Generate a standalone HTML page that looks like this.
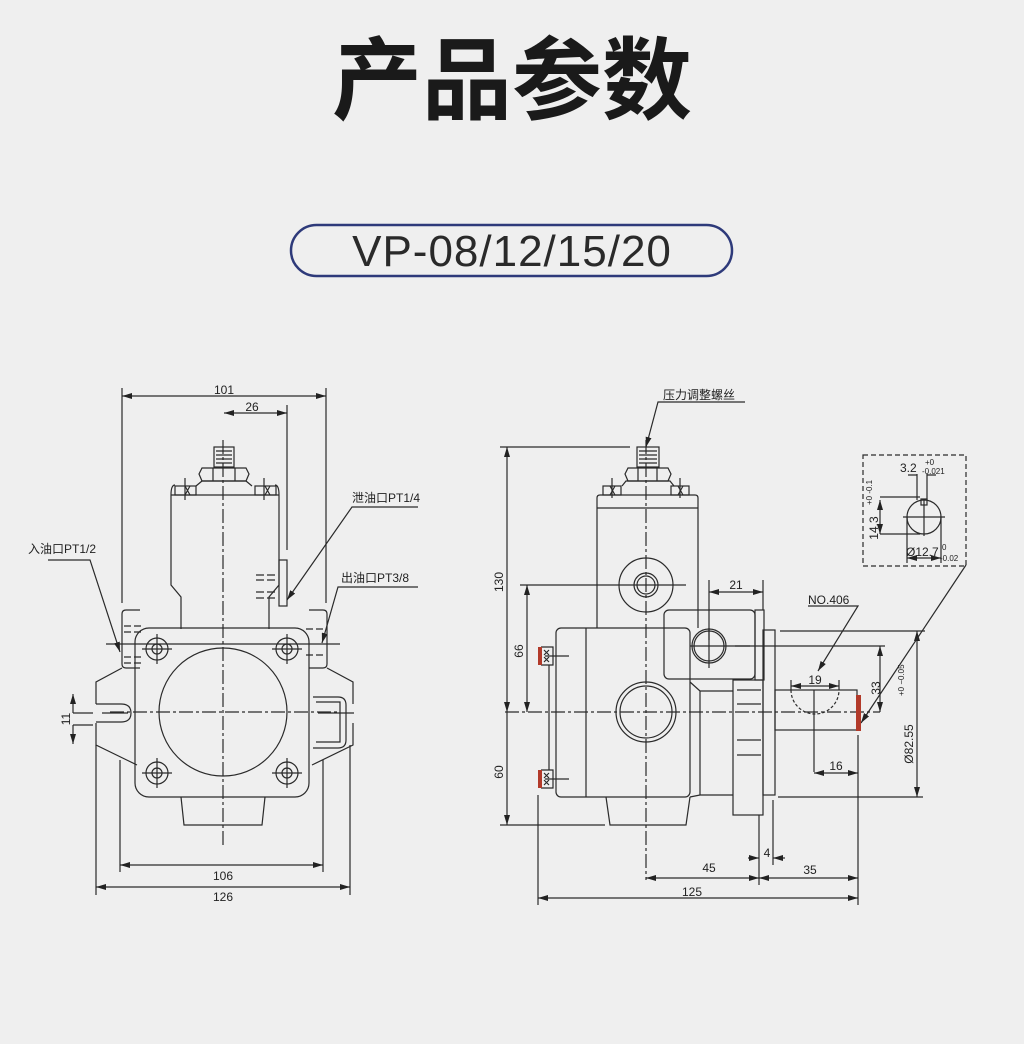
<!DOCTYPE html>
<html><head><meta charset="utf-8"><style>
html,body{margin:0;padding:0;background:#efefef;}
svg{display:block}
</style></head><body>
<svg width="1024" height="1044" viewBox="0 0 1024 1044" xmlns="http://www.w3.org/2000/svg" font-family="Liberation Sans, Noto Sans CJK SC, sans-serif">
<defs>
<marker id="a" viewBox="0 0 10 6" refX="10" refY="3" markerWidth="10" markerHeight="6" orient="auto-start-reverse" markerUnits="userSpaceOnUse"><path d="M0,0L10,3L0,6z" fill="#222"/></marker>
</defs>
<rect width="1024" height="1044" fill="#efefef"/>
<text x="512" y="112" text-anchor="middle" font-size="90" font-weight="bold" fill="#1a1a1a" font-family="Noto Sans CJK SC, sans-serif">产品参数</text>
<rect x="291" y="225" width="441" height="51" rx="25.5" fill="none" stroke="#2e3a7a" stroke-width="2.5"/>
<text x="512" y="266" text-anchor="middle" font-size="44" fill="#2a2a2a" font-family="Liberation Sans, sans-serif" letter-spacing="1">VP-08/12/15/20</text>

<g stroke="#2a2a2a" stroke-width="1.2" fill="none">
<line x1="122" y1="388" x2="122" y2="603"/><line x1="326" y1="388" x2="326" y2="603"/>
<line x1="122" y1="396" x2="326" y2="396" marker-start="url(#a)" marker-end="url(#a)"/>
<line x1="287" y1="405" x2="287" y2="550"/>
<line x1="224" y1="413" x2="287" y2="413" marker-start="url(#a)" marker-end="url(#a)"/>
<line x1="223" y1="440" x2="223" y2="845" stroke-dasharray="14,3,3,3"/>
<rect x="214" y="447" width="20" height="20"/>
<path d="M216,451h16M216,455h16M216,459h16M216,463h16"/>
<path d="M202,468h44l3,6-3,7h-44l-3-7z"/><path d="M213,468v13M235,468v13"/>
<path d="M196,486l6-5h44l6,5"/>
<rect x="175" y="486" width="21" height="9"/><rect x="255" y="486" width="21" height="9"/>
<path d="M185,486l5,9M190,486l-5,9M265,486l5,9M270,486l-5,9"/>
<line x1="185" y1="478" x2="185" y2="500"/><line x1="264" y1="478" x2="264" y2="500"/>
<path d="M171,495h108M171,495v90l10,12v32M279,495v90l-10,12v32M171,495q0-10 4-10M279,495q0-10-4-10"/>
<rect x="279" y="560" width="8" height="46"/>
<path d="M256,575h22M256,580h22M256,592h22M256,598h22" stroke-dasharray="8,3"/>
<path d="M140,610h-14q-4,0-4,4v50q0,4,4,4h14"/>
<path d="M309,610h14q4,0,4,4v50q0,4-4,4h-14"/>
<path d="M124,626h18M124,632h18M124,657h18M124,663h18M306,629h18M306,655h18" stroke-dasharray="7,3"/>
<path d="M122,668l-26,14v22M96,723v22l41,20"/>
<path d="M327,668l26,14v22M353,723v22l-41,20"/>
<path d="M96,704h25q10,0,10,9q0,9-10,9h-25"/>
<path d="M313,697h25q8,0,8,8v35q0,8-8,8h-25"/><path d="M316,702h24v40h-24"/>
<path d="M102,713h26M318,713h36" />
<rect x="135" y="628" width="174" height="169" rx="14"/>
<circle cx="223" cy="712" r="64"/>
<g>
<circle cx="157" cy="649" r="11"/><circle cx="157" cy="649" r="5"/>
<circle cx="287" cy="649" r="11"/><circle cx="287" cy="649" r="5"/>
<circle cx="157" cy="773" r="11"/><circle cx="157" cy="773" r="5"/>
<circle cx="287" cy="773" r="11"/><circle cx="287" cy="773" r="5"/>
<path d="M142,649h30M157,634v30M272,649h30M287,634v30M142,773h30M157,758v30M272,773h30M287,758v30"/>
</g>
<line x1="110" y1="712" x2="340" y2="712" stroke-dasharray="14,3,3,3"/>
<line x1="106" y1="644" x2="340" y2="644"/>
<path d="M181,797l3,28h78l3-28"/>
<line x1="120" y1="760" x2="120" y2="872"/><line x1="323" y1="760" x2="323" y2="872"/>
<line x1="120" y1="865" x2="323" y2="865" marker-start="url(#a)" marker-end="url(#a)"/>
<line x1="96" y1="745" x2="96" y2="895"/><line x1="350" y1="745" x2="350" y2="895"/>
<line x1="96" y1="887" x2="350" y2="887" marker-start="url(#a)" marker-end="url(#a)"/>
<line x1="73" y1="713" x2="73" y2="694" marker-end="url(#a)"/><line x1="73" y1="725" x2="73" y2="744" marker-end="url(#a)"/>
<path d="M73,713h20M73,725h20"/>
<path d="M48,560h42l30,92" marker-end="url(#a)"/>
<path d="M418,507h-66l-65,93" marker-end="url(#a)"/>
<path d="M418,587h-80l-16,56" marker-end="url(#a)"/>

<line x1="500" y1="447" x2="630" y2="447"/>
<line x1="507" y1="447" x2="507" y2="712" marker-start="url(#a)" marker-end="url(#a)"/>
<line x1="507" y1="712" x2="507" y2="825" marker-end="url(#a)"/>
<line x1="500" y1="825" x2="605" y2="825"/>
<line x1="520" y1="585" x2="610" y2="585"/>
<line x1="527" y1="585" x2="527" y2="712" marker-start="url(#a)" marker-end="url(#a)"/>
<line x1="505" y1="712" x2="880" y2="712" stroke-dasharray="14,3,3,3"/>
<line x1="646" y1="440" x2="646" y2="880" stroke-dasharray="14,3,3,3"/>
<rect x="637" y="447" width="22" height="20"/>
<path d="M639,451h18M639,455h18M639,459h18M639,463h18"/>
<path d="M628,468h40l3,6-3,7h-40l-3-7z"/><path d="M638,468v13M657,468v13"/>
<path d="M622,486l4-5h44l4,5"/>
<rect x="603" y="486" width="18" height="9"/><rect x="671" y="486" width="18" height="9"/>
<path d="M610,486l5,9M615,486l-5,9M678,486l5,9M683,486l-5,9M612,478v20M680,478v20"/>
<path d="M597,628v-130q0-3,3-3h95q3,0,3,3v130"/>
<line x1="597" y1="508" x2="698" y2="508"/>
<circle cx="646" cy="585" r="27"/><circle cx="646" cy="585" r="12"/><circle cx="646" cy="585" r="9"/>
<path d="M610,585h76"/>
<rect x="556" y="628" width="134" height="169" rx="5"/>
<line x1="586" y1="628" x2="586" y2="797"/>
<circle cx="646" cy="712" r="30"/><circle cx="646" cy="712" r="26"/>
<path d="M606,797l4,28h76l4-28"/>
<rect x="664" y="610" width="91" height="69" rx="5"/>
<rect x="755" y="610" width="9" height="70"/>
<circle cx="709" cy="646" r="17"/><circle cx="709" cy="646" r="15"/>
<path d="M690,646h60M709,628v40"/>
<path d="M690,682l10,9h33M700,691v104M690,797l10-2h33"/>
<rect x="733" y="680" width="30" height="135"/>
<path d="M737,690h24M737,704h24M737,740h24M737,755h24"/>
<rect x="763" y="630" width="12" height="165"/>
<rect x="775" y="690" width="82" height="40"/>
<path d="M791,690a24,24 0 0 0 48,0" stroke-dasharray="3,2"/>
<line x1="814" y1="690" x2="814" y2="772"/>
<path d="M541,647h12v18h-12M541,770h12v18h-12M549,665v105"/>
<path d="M545,656h24M545,779h24"/>
<path d="M544,650l5,5M549,650l-5,5M544,657l5,5M549,657l-5,5M544,773l5,5M549,773l-5,5M544,780l5,5M549,780l-5,5"/>
<line x1="709" y1="580" x2="709" y2="640"/><line x1="763" y1="580" x2="763" y2="610"/>
<line x1="709" y1="592" x2="763" y2="592" marker-start="url(#a)" marker-end="url(#a)"/>
<line x1="791" y1="680" x2="791" y2="690"/><line x1="839" y1="680" x2="839" y2="690"/>
<line x1="791" y1="686" x2="839" y2="686" marker-start="url(#a)" marker-end="url(#a)"/>
<path d="M735,646h150"/>
<line x1="880" y1="646" x2="880" y2="712" marker-start="url(#a)" marker-end="url(#a)"/>
<path d="M780,631h145M778,797h145"/>
<line x1="917" y1="631" x2="917" y2="797" marker-start="url(#a)" marker-end="url(#a)"/>
<line x1="858" y1="735" x2="858" y2="905"/>
<line x1="814" y1="773" x2="858" y2="773" marker-start="url(#a)" marker-end="url(#a)"/>
<line x1="759" y1="815" x2="759" y2="885"/><line x1="773" y1="800" x2="773" y2="865"/>
<line x1="748" y1="858" x2="759" y2="858" marker-end="url(#a)"/><line x1="785" y1="858" x2="773" y2="858" marker-end="url(#a)"/>
<line x1="646" y1="878" x2="759" y2="878" marker-start="url(#a)" marker-end="url(#a)"/>
<line x1="759" y1="878" x2="858" y2="878" marker-start="url(#a)" marker-end="url(#a)"/>
<line x1="538" y1="795" x2="538" y2="905"/>
<line x1="538" y1="898" x2="858" y2="898" marker-start="url(#a)" marker-end="url(#a)"/>
<path d="M745,402h-87l-12,45" marker-end="url(#a)"/>
<path d="M808,606h50l-40,65" marker-end="url(#a)"/>
<path d="M966,565l-105,158" marker-end="url(#a)"/>
<rect x="863" y="455" width="103" height="111" stroke-dasharray="5,3"/>
<circle cx="924" cy="517" r="17"/><rect x="921" y="499" width="6" height="6"/>
<path d="M903,517h42M924,500v36"/>
<path d="M917,474v26M927,474v26"/>
<path d="M908,475l9,0M936,475l-9,0"/>
<path d="M880,497h40M880,534h40"/>
<line x1="880" y1="500" x2="880" y2="534" marker-start="url(#a)" marker-end="url(#a)"/>
<path d="M907,517v46M941,517v46"/>
<line x1="907" y1="558" x2="941" y2="558" marker-start="url(#a)" marker-end="url(#a)"/>
</g>
<g fill="#b23a2a">
<rect x="538" y="647" width="4" height="18"/><rect x="538" y="770" width="4" height="18"/>
<rect x="856" y="695" width="5" height="36"/>
</g>
<g font-size="12" fill="#222">
<text x="224" y="394" text-anchor="middle">101</text>
<text x="252" y="411" text-anchor="middle">26</text>
<text x="223" y="880" text-anchor="middle">106</text>
<text x="223" y="901" text-anchor="middle">126</text>
<text x="28" y="553">入油口PT1/2</text>
<text x="352" y="502">泄油口PT1/4</text>
<text x="341" y="582">出油口PT3/8</text>
<text x="70" y="719" transform="rotate(-90 70 719)" text-anchor="middle">11</text>
<text x="663" y="399">压力调整螺丝</text>
<text x="736" y="589" text-anchor="middle">21</text>
<text x="808" y="604">NO.406</text>
<text x="815" y="684" text-anchor="middle">19</text>
<text x="836" y="770" text-anchor="middle">16</text>
<text x="709" y="872" text-anchor="middle">45</text>
<text x="767" y="857" text-anchor="middle">4</text>
<text x="810" y="874" text-anchor="middle">35</text>
<text x="692" y="896" text-anchor="middle">125</text>
<text x="503" y="582" transform="rotate(-90 503 582)" text-anchor="middle">130</text>
<text x="523" y="651" transform="rotate(-90 523 651)" text-anchor="middle">66</text>
<text x="503" y="772" transform="rotate(-90 503 772)" text-anchor="middle">60</text>
<text x="880" y="688" transform="rotate(-90 880 688)" text-anchor="middle">33</text>
<text x="913" y="744" transform="rotate(-90 913 744)" text-anchor="middle">Ø82.55</text>
<text x="904" y="696" transform="rotate(-90 904 696)" font-size="8">+0 −0.05</text>
<text x="900" y="472" font-size="12">3.2</text>
<text x="925" y="465" font-size="8">+0</text>
<text x="922" y="474" font-size="8">-0.021</text>
<text x="878" y="528" transform="rotate(-90 878 528)" text-anchor="middle">14.3</text>
<text x="872" y="505" transform="rotate(-90 872 505)" font-size="8">+0 -0.1</text>
<text x="906" y="556">Ø12.7</text>
<text x="942" y="550" font-size="8">0</text>
<text x="940" y="561" font-size="8">-0.02</text>
</g>
</svg>
</body></html>
